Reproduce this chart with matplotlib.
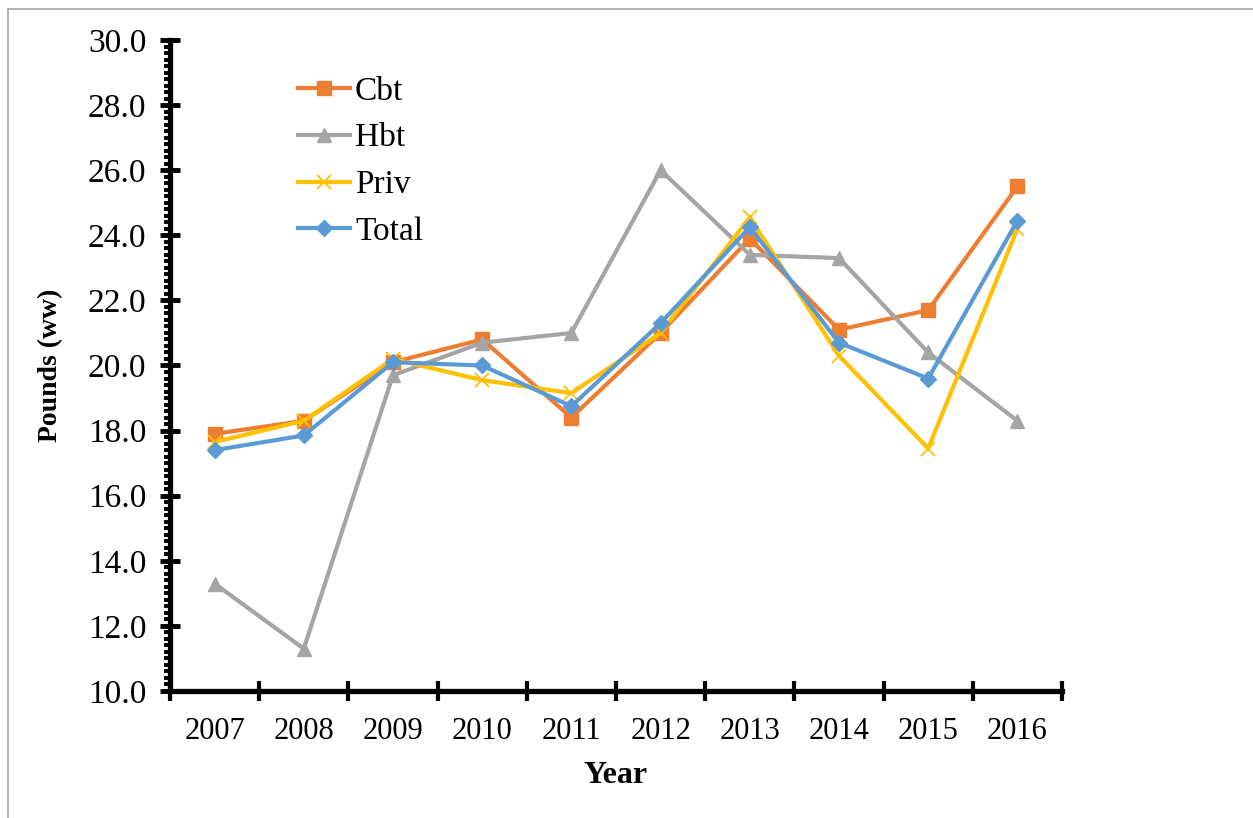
import matplotlib
matplotlib.use("Agg")
import matplotlib.pyplot as plt
from matplotlib.lines import Line2D
from matplotlib.ticker import MultipleLocator, FixedLocator, FormatStrFormatter, NullFormatter

plt.rcParams['font.family'] = ['Liberation Serif', 'DejaVu Serif']

years = ['2007', '2008', '2009', '2010', '2011', '2012', '2013', '2014', '2015', '2016']
cbt   = [17.9, 18.3, 20.1, 20.8, 18.4, 21.0, 23.9, 21.1, 21.7, 25.5]
hbt   = [13.3, 11.3, 19.7, 20.7, 21.0, 26.0, 23.4, 23.3, 20.4, 18.3]
priv  = [17.65, 18.3, 20.2, 19.55, 19.15, 21.0, 24.55, 20.3, 17.45, 24.2]
total = [17.4, 17.85, 20.1, 20.0, 18.75, 21.3, 24.25, 20.7, 19.6, 24.45]

series = [
    ('Cbt',   cbt,   '#ED7D31', 's', 10, 1.0),
    ('Hbt',   hbt,   '#A5A5A5', '^', 10, 1.0),
    ('Priv',  priv,  '#FFC000', 'x', 10, 1.3),
    ('Total', total, '#5B9BD5', 'D', 8, 1.0),
]

fig = plt.figure(figsize=(12.53, 8.18), dpi=100)
ax = fig.add_axes([170/1253, 1-691/818, (1062-170)/1253, (691-40)/818])

x = list(range(len(years)))
for name, vals, col, mk, ms, mew in series:
    ax.plot(x, vals, color=col, lw=3.0, marker=mk, markersize=ms,
            markeredgecolor=col, markerfacecolor=col, markeredgewidth=mew,
            label=name, solid_joinstyle='round')

ax.set_xlim(-0.5, len(years) - 0.5)
ax.set_ylim(10, 30)

ax.yaxis.set_major_locator(MultipleLocator(2))
ax.yaxis.set_minor_locator(MultipleLocator(0.2))
ax.yaxis.set_major_formatter(FormatStrFormatter('%.1f'))

# category boundaries carry the tick marks, labels sit at category centres
ax.xaxis.set_major_locator(FixedLocator([i - 0.5 for i in range(len(years) + 1)]))
ax.xaxis.set_major_formatter(NullFormatter())
ax.xaxis.set_minor_locator(FixedLocator(x))
ax.set_xticklabels(years, minor=True)

for s in ['top', 'right']:
    ax.spines[s].set_visible(False)
for s in ['left', 'bottom']:
    ax.spines[s].set_linewidth(3.8)
    ax.spines[s].set_color('black')

ax.tick_params(axis='y', which='major', direction='inout', length=14, width=3.5,
               labelsize=24, pad=10)
ax.tick_params(axis='y', which='minor', direction='out', length=4.5, width=2.8)
ax.tick_params(axis='x', which='major', direction='inout', length=14, width=3)
ax.tick_params(axis='x', which='minor', length=0, labelsize=22, pad=19)

ax.set_ylabel('Pounds (ww)', fontsize=20, fontweight='bold')
ax.set_xlabel('Year', fontsize=23, fontweight='bold')
ax.yaxis.set_label_coords((63 - 170) / 892, 0.5)
ax.xaxis.set_label_coords(0.5, (691 - 761) / 651)

ax.legend(loc='upper left', bbox_to_anchor=(0.129, 0.965), frameon=False,
          fontsize=24, handlelength=1.55, handletextpad=0.15,
          labelspacing=0.49, borderaxespad=0)

# thin frame lines along the top and left edges of the figure
fig.add_artist(Line2D([8/1253, 8/1253], [0, 1-9/818], color='#A6A6A6', lw=1.2,
                      transform=fig.transFigure))
fig.add_artist(Line2D([8/1253, 1], [1-9/818, 1-9/818], color='#A6A6A6', lw=1.2,
                      transform=fig.transFigure))

fig.savefig('out.png', dpi=100, facecolor='white')
